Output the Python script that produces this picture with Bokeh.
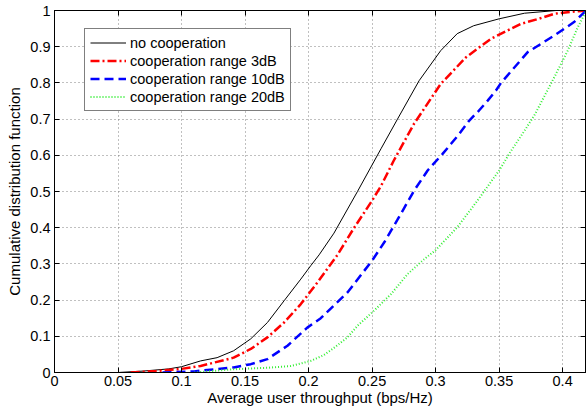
from bokeh.plotting import figure
from bokeh.models import Range1d, FixedTicker, LinearAxis, Legend, LegendItem
from bokeh.embed import file_html
from bokeh.resources import INLINE

# ---- data ----
x_none = [0.05, 0.07, 0.09, 0.10, 0.115, 0.128, 0.141, 0.1545, 0.1676, 0.1807, 0.1939, 0.2017,
          0.2083, 0.22, 0.2385, 0.257, 0.27, 0.287, 0.304, 0.317, 0.330, 0.350, 0.370, 0.395, 0.42]
y_none = [0.0, 0.004, 0.010, 0.016, 0.032, 0.041, 0.060, 0.093, 0.138, 0.198, 0.258, 0.295,
          0.325, 0.385, 0.500, 0.618, 0.700, 0.806, 0.889, 0.936, 0.958, 0.977, 0.9925, 1.0, 1.0]

x_3db = [0.06, 0.08, 0.10, 0.115, 0.141, 0.1545, 0.1676, 0.1807, 0.1939, 0.207, 0.2228, 0.235,
         0.250, 0.257, 0.267, 0.283, 0.304, 0.324, 0.3436, 0.367, 0.381, 0.3935, 0.409, 0.42]
y_3db = [0.0, 0.004, 0.010, 0.018, 0.041, 0.065, 0.097, 0.138, 0.189, 0.249, 0.325, 0.395,
         0.475, 0.515, 0.585, 0.687, 0.797, 0.871, 0.922, 0.963, 0.977, 0.991, 0.997, 1.0]

x_10db = [0.085, 0.11, 0.115, 0.141, 0.1545, 0.1676, 0.1834, 0.199, 0.2096, 0.2306, 0.25, 0.26,
          0.270, 0.283, 0.2937, 0.3055, 0.312, 0.3186, 0.3265, 0.334, 0.341, 0.3475, 0.3515,
          0.3725, 0.3935, 0.409, 0.417, 0.42]
y_10db = [0.0, 0.003, 0.005, 0.014, 0.023, 0.037, 0.074, 0.124, 0.150, 0.221, 0.309, 0.362,
          0.422, 0.502, 0.558, 0.604, 0.631, 0.659, 0.696, 0.723, 0.751, 0.779, 0.800,
          0.885, 0.931, 0.968, 0.995, 1.0]

x_20db = [0.11, 0.141, 0.1676, 0.186, 0.2017, 0.212, 0.220, 0.2306, 0.2385, 0.2516, 0.265,
          0.278, 0.291, 0.300, 0.317, 0.325, 0.333, 0.350, 0.359, 0.370, 0.3777, 0.3935,
          0.404, 0.412, 0.418, 0.42]
y_20db = [0.0, 0.009, 0.013, 0.018, 0.032, 0.048, 0.068, 0.097, 0.129, 0.171, 0.217, 0.272,
          0.313, 0.338, 0.401, 0.438, 0.475, 0.558, 0.610, 0.668, 0.710, 0.816, 0.889,
          0.954, 0.995, 1.0]

x_ticks = [0, 0.05, 0.1, 0.15, 0.2, 0.25, 0.3, 0.35, 0.4]
x_tick_labels = ["0", "0.05", "0.1", "0.15", "0.2", "0.25", "0.3", "0.35", "0.4"]
y_ticks = [0, 0.1, 0.2, 0.3, 0.4, 0.5, 0.6, 0.7, 0.8, 0.9, 1.0]
y_tick_labels = ["0", "0.1", "0.2", "0.3", "0.4", "0.5", "0.6", "0.7", "0.8", "0.9", "1"]

series_names = ["no cooperation", "cooperation range 3dB", "cooperation range 10dB",
                "cooperation range 20dB"]

FONT = "Liberation Sans"

p = figure(width=586, height=409, output_backend="svg", toolbar_location=None,
           x_range=Range1d(0, 0.418), y_range=Range1d(0, 1),
           min_border_left=54, min_border_right=1, min_border_top=10, min_border_bottom=37)
p.background_fill_color = "white"
p.border_fill_color = "white"
p.outline_line_color = "black"
p.outline_line_width = 1

# grid
for g in (p.xgrid, p.ygrid):
    g.grid_line_color = "#808080"
    g.grid_line_dash = "1 3"
    g.grid_line_width = 1
p.xgrid.ticker = FixedTicker(ticks=x_ticks)
p.ygrid.ticker = FixedTicker(ticks=y_ticks)

# main axes
xa = p.xaxis[0]
ya = p.yaxis[0]
xa.ticker = FixedTicker(ticks=x_ticks)
ya.ticker = FixedTicker(ticks=y_ticks)
xa.major_label_overrides = {t: l for t, l in zip(x_ticks, x_tick_labels)}
ya.major_label_overrides = {t: l for t, l in zip(y_ticks, y_tick_labels)}
xa.axis_label = "Average user throughput (bps/Hz)"
ya.axis_label = "Cumulative distribution function"
for a in (xa, ya):
    a.axis_line_color = "black"
    a.major_tick_line_color = "black"
    a.minor_tick_line_color = None
    a.major_tick_in = 5
    a.major_tick_out = 0
    a.major_label_text_font = FONT
    a.major_label_text_font_size = "14.5px"
    a.major_label_text_color = "black"
    a.axis_label_text_font = FONT
    a.axis_label_text_font_size = "15px"
    a.axis_label_text_font_style = "normal"
    a.axis_label_text_color = "black"
xa.major_label_standoff = 3
xa.axis_label_standoff = 0
ya.major_label_standoff = 4
ya.axis_label_standoff = 4

# box ticks on top and right (no labels)
for loc, tick in (("above", x_ticks), ("right", y_ticks)):
    ax = LinearAxis(ticker=FixedTicker(ticks=tick))
    ax.major_label_text_color = None
    ax.major_label_standoff = 0
    ax.major_tick_in = 5
    ax.major_tick_out = 0
    ax.minor_tick_line_color = None
    ax.axis_line_color = "black"
    ax.major_tick_line_color = "black"
    p.add_layout(ax, loc)

r0 = p.line(x_none, y_none, line_color="black", line_width=1)
r1 = p.line(x_3db, y_3db, line_color="red", line_width=2.5, line_dash="9 3 2 3")
r2 = p.line(x_10db, y_10db, line_color="blue", line_width=2.5, line_dash="9 5")
r3 = p.line(x_20db, y_20db, line_color="#33ee33", line_width=2, line_dash="1 2")

legend = Legend(items=[LegendItem(label=n, renderers=[r]) for n, r in
                       zip(series_names, [r0, r1, r2, r3])],
                location=(30, 261))
legend.label_text_font = FONT
legend.label_text_font_size = "14.5px"
legend.label_text_color = "black"
legend.border_line_color = "black"
legend.border_line_width = 1
legend.background_fill_color = "white"
legend.background_fill_alpha = 1
legend.glyph_width = 36
legend.glyph_height = 17
legend.label_height = 17
legend.label_standoff = 4
legend.spacing = 1
legend.padding = 5
legend.margin = 0
p.add_layout(legend, "center")

open("out.html", "w").write(file_html(p, INLINE))
